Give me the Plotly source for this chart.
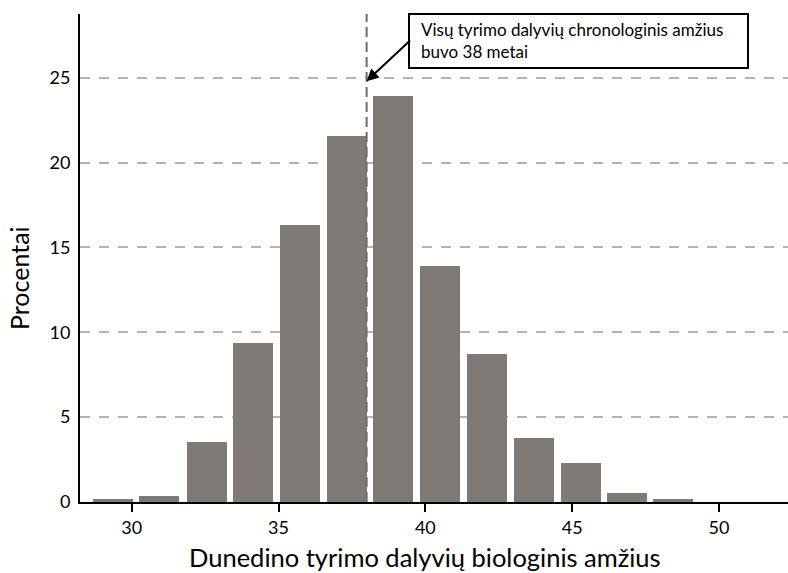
import plotly.graph_objects as go

# Data
bin_centers = [29.35, 30.94, 32.55, 34.14, 35.73, 37.32, 38.91, 40.51, 42.10, 43.70, 45.30, 46.87, 48.43]
percent = [0.15, 0.34, 3.56, 9.35, 16.3, 21.55, 23.95, 13.9, 8.75, 3.8, 2.27, 0.56, 0.2]
x_ticks = [30, 35, 40, 45, 50]
y_ticks = [0, 5, 10, 15, 20, 25]
chrono_age = 38
arrow_tip_y = 24.8

FONT = "Lato"

# plot area in window pixels
W, H = 788, 573
PL, PR, PT, PB = 80, 788, 14, 502
PW, PH = PR - PL, PB - PT


def px(xa):
    return (xa - PL) / PW


def py(ya):
    return (PB - ya) / PH


fig = go.Figure()
fig.add_trace(go.Bar(
    x=bin_centers, y=percent, width=1.36,
    marker=dict(color="#7f7a76", line=dict(width=0)),
    hoverinfo="x+y",
))

fig.update_layout(
    width=W, height=H,
    margin=dict(l=PL, r=W - PR, t=PT, b=H - PB, pad=0, autoexpand=False),
    plot_bgcolor="white", paper_bgcolor="white",
    showlegend=False,
    font=dict(family=FONT, color="black"),
    bargap=0,
)

fig.update_xaxes(
    range=[28.24, 52.35], automargin=False,
    tickvals=x_ticks, ticktext=[str(v) for v in x_ticks],
    showgrid=False, zeroline=False,
    showline=True, linecolor="black", linewidth=2,
    ticks="outside", ticklen=8, tickwidth=2, tickcolor="black",
    tickfont=dict(size=18, family=FONT, color="black"),
)
fig.update_yaxes(
    range=[0, 28.76], automargin=False,
    tickvals=y_ticks, ticktext=[str(v) for v in y_ticks],
    showgrid=True, gridcolor="#b3b3b3", gridwidth=2, griddash="10px,9px",
    zeroline=False,
    showline=True, linecolor="black", linewidth=2,
    ticks="", ticklabelstandoff=4,
    tickfont=dict(size=18, family=FONT, color="black"),
)

# vertical dashed line at chronological age
fig.add_shape(type="line", xref="x", yref="paper", x0=chrono_age, x1=chrono_age, y0=0, y1=1,
              line=dict(color="#6b6b6b", width=2, dash="10px,5px"), layer="above")

# annotation box
fig.add_shape(type="rect", xref="paper", yref="paper",
              x0=px(409), x1=px(748), y0=py(68), y1=py(14),
              line=dict(color="black", width=2), fillcolor="white", layer="above")
fig.add_annotation(
    xref="paper", yref="paper", x=px(419), y=py(17),
    xanchor="left", yanchor="top", align="left", showarrow=False,
    text="Visų tyrimo dalyvių chronologinis amžius<br>buvo 38 metai",
    font=dict(size=17, family=FONT, color="black"),
)
# arrow
fig.add_annotation(
    x=chrono_age, y=arrow_tip_y, xref="x", yref="y",
    ax=45, ay=-42, axref="pixel", ayref="pixel",
    text="", showarrow=True, arrowhead=2, arrowsize=1.2, arrowwidth=2, arrowcolor="black",
)

# axis titles
fig.add_annotation(
    xref="paper", yref="paper", x=px(425), y=py(557),
    xanchor="center", yanchor="middle", showarrow=False,
    text="Dunedino tyrimo dalyvių biologinis amžius",
    font=dict(size=25.5, family=FONT, color="black"),
)
fig.add_annotation(
    xref="paper", yref="paper", x=px(19), y=py(278),
    xanchor="center", yanchor="middle", showarrow=False, textangle=-90,
    text="Procentai",
    font=dict(size=25, family=FONT, color="black"),
)

fig.write_html(
    "out.html",
    config={"displayModeBar": False},
    post_script="document.body.style.margin='0';document.body.style.overflow='hidden';",
)
